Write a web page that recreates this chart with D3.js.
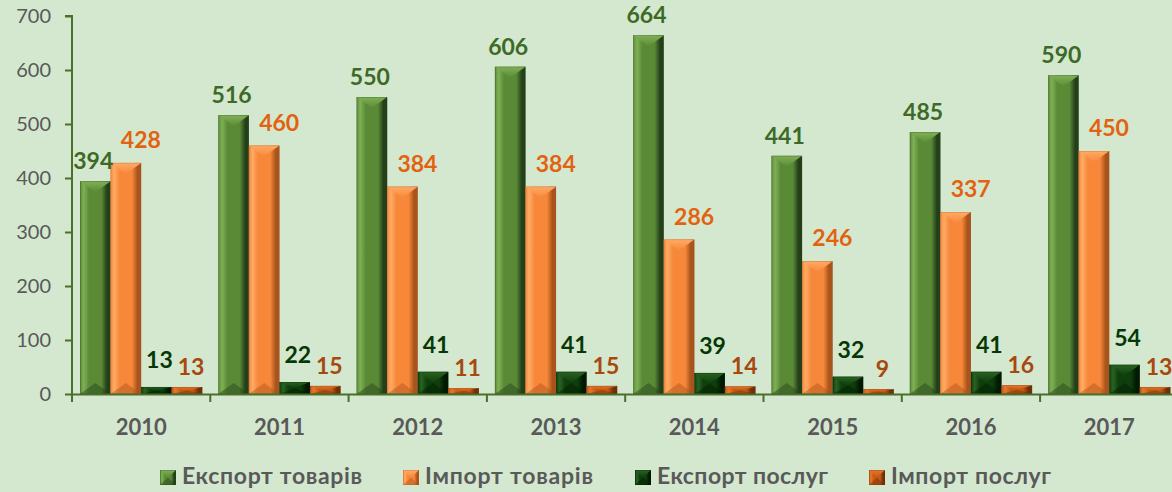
<!DOCTYPE html>
<html><head><meta charset="utf-8">
<script src="https://cdn.jsdelivr.net/npm/d3@7/dist/d3.min.js"></script>
<style>
html,body{margin:0;padding:0;background:#d3e8cf;}
svg{display:block;font-family:Lato,"Open Sans",sans-serif;}
</style></head>
<body>
<svg id="chart" width="1172" height="492"></svg>
<script>
const years = ["2010","2011","2012","2013","2014","2015","2016","2017"];
const seriesNames = ["Експорт товарів","Імпорт товарів","Експорт послуг","Імпорт послуг"];
const exportGoods = [394,516,550,606,664,441,485,590];
const importGoods = [428,460,384,384,286,246,337,450];
const exportServices = [13,22,41,41,39,32,41,54];
const importServices = [13,15,11,15,14,9,16,13];
const yTicks = [0,100,200,300,400,500,600,700];

const seriesValues = [exportGoods, importGoods, exportServices, importServices];
const palette = [
  {base:"#5a8a36", light:"#80b055", dark:"#24401a", label:"#3d6a26", dx:-2, gap:12},
  {base:"#f7883a", light:"#ffab66", dark:"#a8541c", label:"#e2620f", dx:15, gap:15},
  {base:"#0e3e0c", light:"#2a6322", dark:"#021a02", label:"#063806", dx:3, gap:19},
  {base:"#c65a14", light:"#e3772e", dark:"#6e3008", label:"#a8480f", dx:4, gap:12}
];

const svg = d3.select("#chart");
const left = 72, band = 138.3;
const x = d3.scaleBand().domain(years).range([left, left + band*years.length]).padding(0);
const xs = d3.scaleBand().domain(d3.range(4)).range([8, band-8]).padding(0);
const y = d3.scaleLinear().domain([0,700]).range([394,16]);

const defs = svg.append("defs");
palette.forEach((p,i)=>{
  const g = defs.append("linearGradient").attr("id","hg"+i).attr("x1","0").attr("x2","1").attr("y1","0").attr("y2","0");
  [[0,p.base],[0.12,p.light],[0.3,p.base],[0.7,p.base],[0.88,p.dark],[1,p.dark]].forEach(s=>{
    g.append("stop").attr("offset",s[0]).attr("stop-color",s[1]);
  });
  const t = defs.append("linearGradient").attr("id","tg"+i).attr("x1","0").attr("x2","0").attr("y1","0").attr("y2","1");
  t.append("stop").attr("offset",0).attr("stop-color",p.light);
  t.append("stop").attr("offset",1).attr("stop-color",p.base);
});

function bevelBar(g, bx, by, w, h, i){
  const p = palette[i];
  g.append("rect").attr("x",bx).attr("y",by).attr("width",w).attr("height",h)
    .attr("fill","url(#hg"+i+")");
  const b = Math.min(11, h/2);
  g.append("path").attr("d",`M${bx},${by}L${bx+w},${by}L${bx+w/2},${by+b}Z`)
    .attr("fill","url(#tg"+i+")");
  g.append("path").attr("d",`M${bx},${by+h}L${bx+w},${by+h}L${bx+w/2},${by+h-b}Z`)
    .attr("fill",p.dark).attr("opacity",0.45);
  g.append("rect").attr("x",bx+0.25).attr("y",by+0.25).attr("width",Math.max(0,w-0.5)).attr("height",Math.max(0,h-0.5))
    .attr("fill","none").attr("stroke",p.dark).attr("stroke-opacity",0.5).attr("stroke-width",0.5);
}

// bars
const gBars = svg.append("g");
years.forEach((yr,j)=>{
  seriesValues.forEach((vals,i)=>{
    const bx = x(yr) + xs(i), w = xs.bandwidth();
    const by = y(vals[j]), h = y(0) - y(vals[j]);
    bevelBar(gBars, bx, by, w, h, i);
  });
});
years.forEach((yr,j)=>{
  seriesValues.forEach((vals,i)=>{
    const bx = x(yr) + xs(i), w = xs.bandwidth();
    gBars.append("text").attr("x", bx + w/2 + palette[i].dx).attr("y", y(vals[j]) - palette[i].gap)
      .attr("text-anchor","middle").attr("font-weight","bold").attr("font-size","23px")
      .attr("fill", palette[i].label).text(vals[j]);
  });
});

// y axis
const yAxis = d3.axisLeft(y).tickValues(yTicks).tickSize(7).tickPadding(14);
const ga = svg.append("g").attr("transform",`translate(${left},0)`).call(yAxis);
ga.select(".domain").attr("stroke","#4a6e2c").attr("stroke-width",2).attr("d",`M-7,${y(700)}H0V${y(0)}`);
ga.selectAll(".tick line").attr("stroke","#4a6e2c").attr("stroke-width",2);
ga.selectAll(".tick text").attr("fill","#595959").attr("font-size","20px").attr("font-family","Lato,'Open Sans',sans-serif");

// x axis
const xAxis = d3.axisBottom(x).tickSize(0).tickPadding(0);
const gx = svg.append("g").attr("transform",`translate(0,${y(0)})`).call(xAxis);
gx.select(".domain").attr("stroke","#4a6e2c").attr("stroke-width",2);
gx.selectAll(".tick text").attr("fill","#595959").attr("font-size","22px").attr("font-weight","bold")
  .attr("font-family","Lato,'Open Sans',sans-serif").attr("dy",null).attr("y",41);
gx.selectAll(".bt").data(d3.range(years.length+1)).enter().append("line")
  .attr("x1",d=>left+d*band).attr("x2",d=>left+d*band).attr("y1",0).attr("y2",8)
  .attr("stroke","#4a6e2c").attr("stroke-width",2);

// legend
const legendX = [160, 403, 635, 869];
const legendW = [180, 168, 171, 160];
const lg = svg.append("g");
seriesNames.forEach((n,i)=>{
  const mx = legendX[i], my = 470;
  bevelBar(lg, mx, my, 16, 15, i);
  lg.append("text").attr("x", mx+22).attr("y", 484).attr("font-size","23px").attr("font-weight","bold")
    .attr("textLength", legendW[i]).attr("lengthAdjust","spacing")
    .attr("fill","#595959").text(n);
});
</script>
</body></html>
